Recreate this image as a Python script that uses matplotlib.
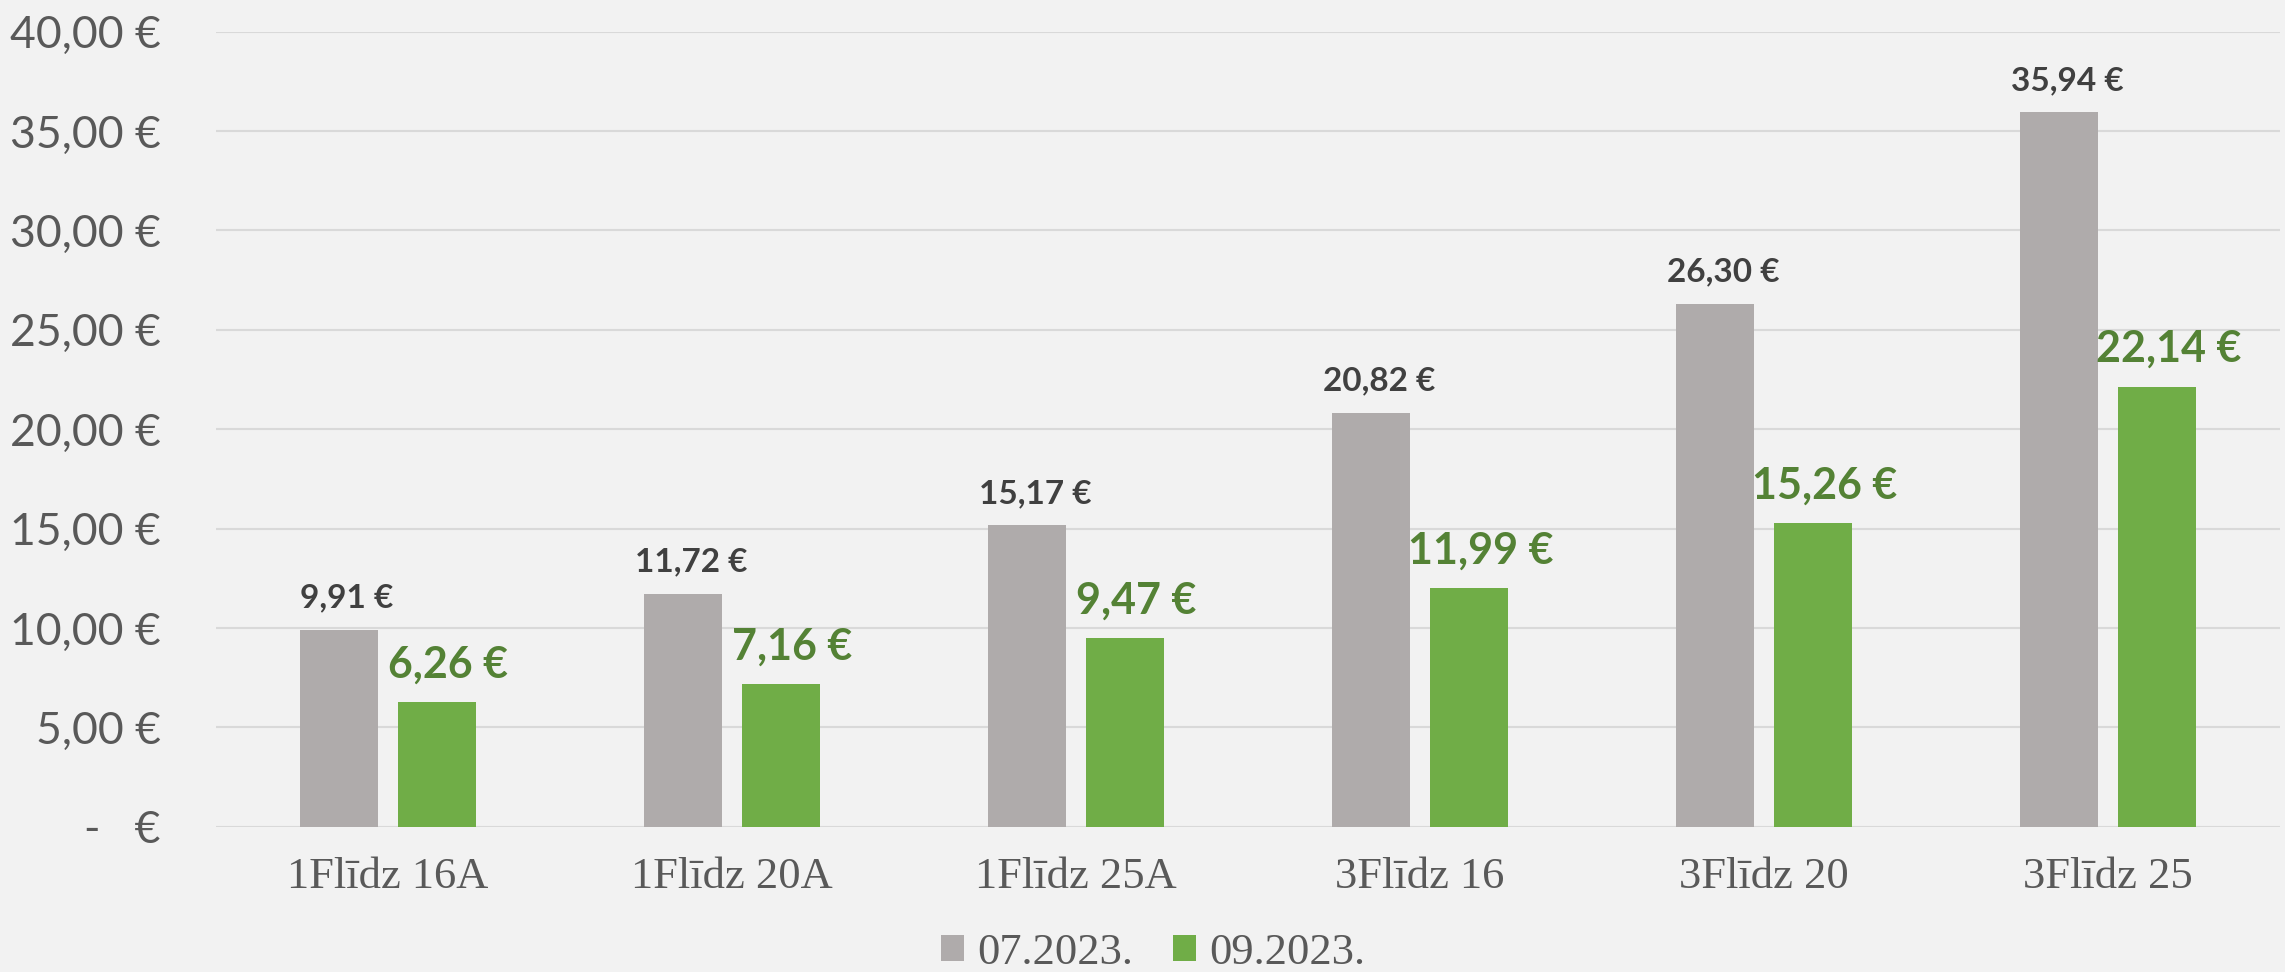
import matplotlib
matplotlib.use("Agg")
import matplotlib.pyplot as plt
from matplotlib.patches import Patch
import numpy as np

categories = ["1Flīdz 16A", "1Flīdz 20A", "1Flīdz 25A", "3Flīdz 16", "3Flīdz 20", "3Flīdz 25"]
series_names = ["07.2023.", "09.2023."]
values_jul = [9.91, 11.72, 15.17, 20.82, 26.30, 35.94]
values_sep = [6.26, 7.16, 9.47, 11.99, 15.26, 22.14]
yticks = [0, 5, 10, 15, 20, 25, 30, 35, 40]
ytick_labels = ["-   €", "5,00 €", "10,00 €", "15,00 €", "20,00 €", "25,00 €", "30,00 €", "35,00 €", "40,00 €"]

BG = "#f2f2f2"
GRAY = "#afabab"
GREEN = "#70ad47"
GREEN_TXT = "#548235"
GRAY_TXT = "#404040"
AXIS_TXT = "#595959"
GRID = "#d9d9d9"

def fmt(v):
    return f"{v:.2f}".replace(".", ",") + " €"

fig = plt.figure(figsize=(22.85, 9.72), dpi=100, facecolor=BG)
ax = fig.add_axes([216/2285, (972-826.7)/972, (2280-216)/2285, (826.7-31.7)/972])
ax.set_facecolor(BG)

x = np.arange(len(categories))
w = 0.227
off = 0.1435
ax.bar(x - off, values_jul, w, color=GRAY, zorder=3)
ax.bar(x + off, values_sep, w, color=GREEN, zorder=3)

ax.set_xlim(-0.5, len(categories) - 0.5)
ax.set_ylim(0, 40)
ax.set_yticks(yticks)
ax.set_yticklabels(ytick_labels, fontfamily="Lato", fontsize=32, color=AXIS_TXT)
ax.set_xticks(x)
ax.set_xticklabels(categories, fontfamily="Liberation Serif", fontsize=32, color=AXIS_TXT)
ax.tick_params(axis="y", length=0, pad=40)
ax.tick_params(axis="x", length=0, pad=22)
ax.grid(axis="y", color=GRID, linewidth=1.5, zorder=0)
ax.set_axisbelow(True)
for s in ax.spines.values():
    s.set_visible(False)

for xi, v in zip(x, values_jul):
    ax.annotate(fmt(v), (xi - off, v), xytext=(6, 16), textcoords="offset points",
                ha="center", va="baseline", fontfamily="Lato", fontweight="bold",
                fontsize=24, color=GRAY_TXT, zorder=4)
for xi, v in zip(x, values_sep):
    ax.annotate(fmt(v), (xi + off, v), xytext=(8, 18), textcoords="offset points",
                ha="center", va="baseline", fontfamily="Lato", fontweight="bold",
                fontsize=31, color=GREEN_TXT, zorder=4)

handles = [Patch(facecolor=GRAY, edgecolor="none"), Patch(facecolor=GREEN, edgecolor="none")]
fig.legend(handles, series_names, loc="center", bbox_to_anchor=(1153/2285, 1 - 953/972),
           ncol=2, frameon=False, prop={"family": "Liberation Serif", "size": 32},
           labelcolor=AXIS_TXT, handlelength=0.52, handleheight=0.52,
           handletextpad=0.3, columnspacing=0.9, borderpad=0, borderaxespad=0)

fig.savefig("out.png", dpi=100, facecolor=BG)
